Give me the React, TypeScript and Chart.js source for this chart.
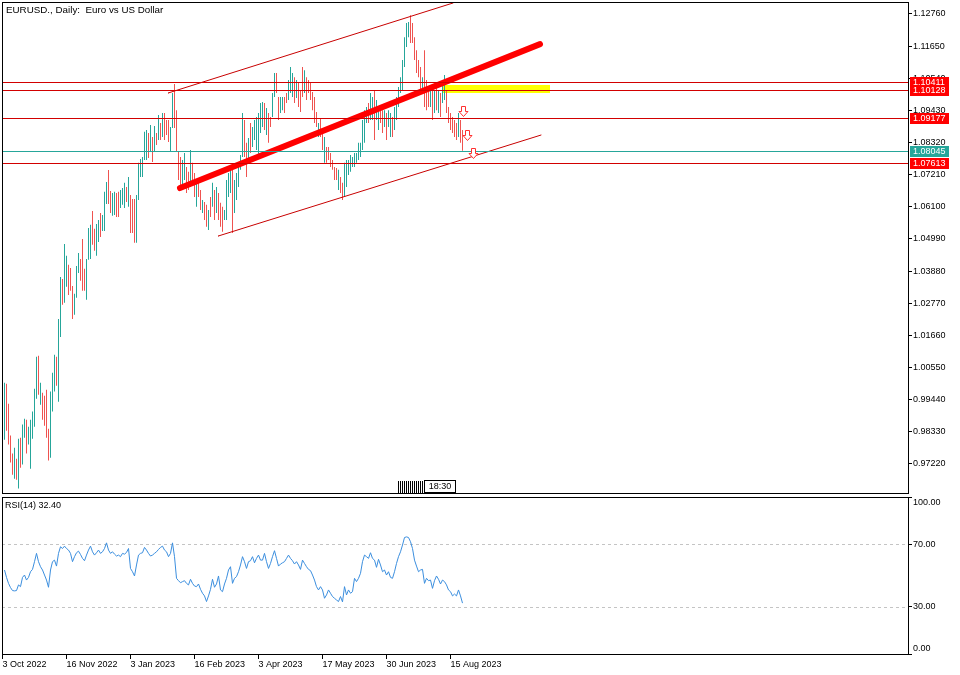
import React, { useEffect, useRef } from 'react';
import { Chart, registerables } from 'chart.js';

Chart.register(...registerables);

// ---- daily bars (index 0 = first bar, early Oct 2022) ----
const highs = [
  1.0003, 0.9999, 0.9930, 0.9820, 0.9758, 0.9778, 0.9740, 0.9809, 0.9813, 0.9858,
  0.9878, 0.9875, 0.9851, 0.9875, 0.9903, 0.9982, 1.0092, 1.0096, 1.0003, 0.9968,
  0.9958, 0.9978, 0.9844, 0.9972, 1.0037, 1.0099, 1.0092, 1.0223, 1.0368, 1.0361,
  1.0482, 1.0441, 1.0410, 1.0399, 1.0337, 1.0310, 1.0406, 1.0451, 1.0430, 1.0499,
  1.0396, 1.0430, 1.0537, 1.0548, 1.0596, 1.0534, 1.0551, 1.0565, 1.0589, 1.0582,
  1.0662, 1.0696, 1.0737, 1.0665, 1.0658, 1.0662, 1.0658, 1.0662, 1.0668, 1.0675,
  1.0693, 1.0679, 1.0713, 1.0651, 1.0637, 1.0637, 1.0651, 1.0762, 1.0775, 1.0782,
  1.0869, 1.0875, 1.0865, 1.0893, 1.0851, 1.0889, 1.0865, 1.0927, 1.0900, 1.0934,
  1.0934, 1.0910, 1.0910, 1.0886, 1.1003, 1.1034, 1.0944, 1.0800, 1.0782, 1.0772,
  1.0796, 1.0748, 1.0731, 1.0806, 1.0762, 1.0727, 1.0703, 1.0693, 1.0668, 1.0634,
  1.0627, 1.0617, 1.0599, 1.0644, 1.0693, 1.0668, 1.0679, 1.0658, 1.0624, 1.0610,
  1.0599, 1.0703, 1.0727, 1.0738, 1.0755, 1.0703, 1.0727, 1.0748, 1.0789, 1.0934,
  1.0910, 1.0831, 1.0848, 1.0900, 1.0886, 1.0910, 1.0920, 1.0934, 1.0969, 1.0972,
  1.0969, 1.0951, 1.0934, 1.0920, 1.1003, 1.1072, 1.1072, 1.0989, 1.0989, 1.0989,
  1.0989, 1.1003, 1.1048, 1.1093, 1.1072, 1.1058, 1.1048, 1.1038, 1.1013, 1.1093,
  1.1082, 1.1058, 1.1048, 1.1038, 1.1007, 1.0989, 1.0938, 1.0900, 1.0917, 1.0865,
  1.0851, 1.0817, 1.0817, 1.0796, 1.0772, 1.0748, 1.0744, 1.0738, 1.0713, 1.0693,
  1.0762, 1.0772, 1.0772, 1.0789, 1.0782, 1.0796, 1.0796, 1.0831, 1.0831, 1.0910,
  1.0944, 1.0955, 1.0969, 1.1003, 1.0989, 1.1013, 1.0979, 1.0955, 1.0944, 1.0944,
  1.0944, 1.0934, 1.0944, 1.0934, 1.0920, 1.0955, 1.0989, 1.1024, 1.1058, 1.1117,
  1.1196, 1.1245, 1.1248, 1.1272, 1.1245, 1.1196, 1.1151, 1.1117, 1.1093, 1.1058,
  1.1151, 1.1048, 1.1024, 1.1013, 1.1013, 1.1013, 1.1024, 1.1013, 1.1003, 1.1038,
  1.1065, 1.1013, 1.0955, 1.0934, 1.0920, 1.0910, 1.0900, 1.0934, 1.0910, 1.0875,
];

const lows = [
  0.9806, 0.9837, 0.9789, 0.9727, 0.9685, 0.9671, 0.9668, 0.9637, 0.9709, 0.9720,
  0.9813, 0.9758, 0.9789, 0.9706, 0.9809, 0.9851, 0.9947, 0.9961, 0.9927, 0.9875,
  0.9854, 0.9813, 0.9734, 0.9744, 0.9903, 0.9972, 0.9992, 0.9937, 1.0161, 1.0272,
  1.0279, 1.0334, 1.0306, 1.0320, 1.0223, 1.0237, 1.0296, 1.0382, 1.0355, 1.0320,
  1.0320, 1.0289, 1.0427, 1.0430, 1.0479, 1.0458, 1.0441, 1.0489, 1.0506, 1.0527,
  1.0527, 1.0620, 1.0620, 1.0589, 1.0579, 1.0582, 1.0575, 1.0575, 1.0606, 1.0617,
  1.0606, 1.0627, 1.0610, 1.0520, 1.0520, 1.0486, 1.0486, 1.0634, 1.0713, 1.0713,
  1.0772, 1.0772, 1.0779, 1.0800, 1.0765, 1.0800, 1.0824, 1.0841, 1.0841, 1.0851,
  1.0841, 1.0858, 1.0834, 1.0800, 1.0882, 1.0882, 1.0800, 1.0703, 1.0679, 1.0668,
  1.0703, 1.0658, 1.0668, 1.0679, 1.0703, 1.0644, 1.0610, 1.0644, 1.0599, 1.0589,
  1.0565, 1.0541, 1.0530, 1.0575, 1.0610, 1.0565, 1.0589, 1.0565, 1.0541, 1.0524,
  1.0565, 1.0565, 1.0644, 1.0658, 1.0520, 1.0589, 1.0634, 1.0679, 1.0738, 1.0782,
  1.0782, 1.0713, 1.0772, 1.0796, 1.0817, 1.0841, 1.0806, 1.0782, 1.0865, 1.0886,
  1.0875, 1.0858, 1.0831, 1.0886, 1.0920, 1.0989, 1.1003, 1.0910, 1.0934, 1.0944,
  1.0934, 1.0969, 1.0979, 1.1003, 1.0989, 1.0969, 1.0986, 1.0955, 1.0938, 1.0989,
  1.1003, 1.0979, 1.1003, 1.0979, 1.0944, 1.0900, 1.0886, 1.0851, 1.0851, 1.0806,
  1.0762, 1.0762, 1.0772, 1.0748, 1.0738, 1.0703, 1.0703, 1.0668, 1.0658, 1.0634,
  1.0644, 1.0679, 1.0720, 1.0731, 1.0748, 1.0748, 1.0762, 1.0772, 1.0782, 1.0806,
  1.0831, 1.0900, 1.0900, 1.0910, 1.0910, 1.0841, 1.0910, 1.0875, 1.0900, 1.0865,
  1.0886, 1.0841, 1.0886, 1.0851, 1.0851, 1.0875, 1.0910, 1.0955, 1.1003, 1.1013,
  1.1093, 1.1162, 1.1196, 1.1176, 1.1176, 1.1117, 1.1072, 1.1058, 1.1013, 1.1013,
  1.0955, 1.0944, 1.0955, 1.0955, 1.0910, 1.0934, 1.0944, 1.0934, 1.0920, 1.0969,
  1.0979, 1.0934, 1.0900, 1.0875, 1.0865, 1.0851, 1.0841, 1.0851, 1.0831, 1.0804,
];

// 1 = bullish bar, 0 = bearish bar
const bullish = [
  1, 0, 0, 0, 0, 1, 0, 1, 0, 1, 1, 0, 1, 1, 1, 1, 1, 0, 1, 0,
  0, 0, 0, 1, 1, 1, 0, 1, 1, 0, 1, 1, 0, 0, 0, 1, 1, 1, 0, 0,
  0, 1, 1, 1, 0, 0, 1, 1, 0, 1, 1, 1, 0, 0, 1, 1, 0, 0, 1, 1,
  1, 0, 1, 0, 0, 0, 1, 1, 1, 1, 1, 1, 0, 1, 0, 1, 0, 1, 0, 1,
  0, 0, 0, 1, 1, 0, 0, 0, 0, 1, 1, 0, 0, 1, 0, 0, 1, 0, 0, 1,
  0, 0, 1, 0, 1, 0, 1, 0, 0, 0, 1, 1, 1, 1, 0, 1, 1, 1, 1, 1,
  0, 0, 1, 0, 1, 1, 1, 1, 1, 1, 0, 1, 0, 0, 1, 1, 0, 0, 1, 1,
  0, 0, 1, 1, 1, 0, 1, 0, 0, 0, 1, 0, 0, 0, 0, 0, 0, 1, 0, 0,
  1, 0, 0, 0, 0, 0, 0, 1, 0, 0, 1, 1, 1, 1, 1, 1, 1, 1, 1, 1,
  1, 1, 0, 1, 1, 0, 1, 1, 0, 0, 1, 0, 1, 1, 0, 1, 1, 1, 1, 1,
  1, 1, 1, 0, 0, 0, 0, 0, 0, 1, 0, 0, 0, 1, 0, 1, 0, 1, 0, 1,
  1, 0, 0, 0, 0, 0, 0, 1, 0, 0,
];

// RSI(14) per bar
const rsi = [
  53.5, 48.8, 45.0, 42.3, 40.4, 40.2, 40.4, 44.0, 42.9, 48.8,
  50.3, 47.1, 48.8, 52.4, 53.9, 58.8, 64.1, 58.8, 55.6, 53.5,
  50.3, 47.1, 42.5, 53.5, 58.8, 59.8, 56.0, 64.1, 68.3, 67.2,
  68.7, 67.2, 66.2, 64.1, 58.8, 62.0, 64.5, 65.5, 63.4, 60.9,
  59.4, 63.0, 66.2, 68.7, 65.1, 63.0, 64.5, 66.2, 64.1, 65.1,
  67.2, 70.8, 66.2, 64.1, 65.1, 63.6, 62.4, 63.0, 62.0, 64.1,
  63.6, 64.7, 67.2, 54.5, 52.4, 49.7, 56.7, 63.0, 64.1, 64.5,
  67.9, 66.2, 64.1, 62.4, 63.0, 64.1, 65.1, 66.6, 67.9, 68.7,
  66.2, 65.1, 62.0, 64.1, 70.8, 62.0, 48.2, 46.7, 45.4, 46.1,
  46.7, 45.0, 44.0, 47.6, 45.0, 43.3, 42.9, 44.6, 41.2, 38.7,
  37.0, 33.4, 37.0, 41.2, 47.6, 42.5, 44.6, 49.7, 40.8, 39.7,
  44.6, 48.2, 53.5, 55.6, 45.0, 48.2, 49.3, 52.4, 56.7, 62.0,
  58.8, 54.5, 58.8, 59.4, 62.0, 58.1, 60.9, 63.0, 59.8, 59.8,
  64.1, 58.8, 54.5, 57.7, 62.0, 65.8, 60.9, 56.0, 57.3, 58.1,
  58.8, 60.9, 63.0, 60.9, 59.4, 57.3, 58.8, 56.7, 53.9, 59.8,
  57.7, 55.6, 53.9, 53.1, 50.3, 47.1, 42.9, 40.8, 42.9, 40.8,
  35.5, 37.6, 40.8, 38.7, 36.6, 35.5, 34.4, 33.4, 36.6, 33.2,
  42.9, 37.6, 40.8, 38.7, 39.7, 48.2, 46.1, 48.2, 51.4, 58.8,
  63.0, 62.0, 60.9, 64.5, 60.9, 59.8, 55.2, 60.3, 56.7, 52.4,
  53.5, 50.3, 52.4, 48.8, 48.2, 52.4, 57.7, 62.0, 65.1, 69.4,
  74.2, 74.6, 74.2, 71.5, 67.2, 59.8, 56.0, 52.4, 53.5, 53.9,
  45.0, 48.2, 46.7, 47.1, 41.8, 46.7, 49.7, 47.6, 44.6, 47.1,
  46.1, 44.0, 40.8, 39.7, 37.0, 38.2, 37.0, 40.8, 37.0, 32.4,
];

// axes
const priceTicks = [1.1276, 1.1165, 1.1054, 1.0943, 1.0832, 1.0721, 1.061, 1.0499, 1.0388, 1.0277, 1.0166, 1.0055, 0.9944, 0.9833, 0.9722];
const dateTickIdx = [-1, 31, 63, 95, 127, 159, 191, 223];
const dateLabels = ['3 Oct 2022', '16 Nov 2022', '3 Jan 2023', '16 Feb 2023', '3 Apr 2023', '17 May 2023', '30 Jun 2023', '15 Aug 2023'];
const rsiTicks = [0, 30, 70, 100];
const rsiLevels = [70, 30];

// drawn objects (bar index, price)
const resistanceLevels = [1.10411, 1.10128, 1.09177, 1.07613];
const bidPrice = [1.08045];
const channelUpper = [{ x: 81.75, y: 1.1003 }, { x: 224.25, y: 1.1314 }];
const channelLower = [{ x: 106.75, y: 1.0509 }, { x: 268.25, y: 1.0858 }];
const trendMiddle = [{ x: 87.75, y: 1.0675 }, { x: 267.75, y: 1.1172 }];
const zoneIdx = [219.25, 272.75];
const zonePrice = [1.1031, 1.1003];
const arrowIdx = [229, 231.25, 234.25];
const arrowPrice = [1.0958, 1.0875, 1.0813];

const X_MIN = -1.25;
const X_MAX = 451.75;
const Y_MIN = 0.962185;
const Y_MAX = 1.131744;

const FONT = '"Liberation Sans", Arial, sans-serif';
const UP = '#26a69a';
const DOWN = '#ef5350';

const mainPlugin = {
  id: 'mainDecor',
  beforeDatasetsDraw(chart: any) {
    const { ctx, scales } = chart;
    const x = scales.x, y = scales.y;
    ctx.save();
    ctx.fillStyle = '#ffff00';
    const x0 = Math.round(x.getPixelForValue(zoneIdx[0]));
    const x1 = Math.round(x.getPixelForValue(zoneIdx[1]));
    const y0 = Math.round(y.getPixelForValue(zonePrice[0]));
    const y1 = Math.round(y.getPixelForValue(zonePrice[1]));
    ctx.fillRect(x0, y0, x1 - x0, y1 - y0);
    ctx.restore();
  },
  afterDatasetsDraw(chart: any) {
    const { ctx, chartArea, scales } = chart;
    const y = scales.y;
    ctx.save();
    ctx.lineWidth = 1;
    const drawLevel = (v: number, color: string) => {
      const py = Math.round(y.getPixelForValue(v)) + 0.5;
      ctx.strokeStyle = color;
      ctx.beginPath();
      ctx.moveTo(chartArea.left, py);
      ctx.lineTo(chartArea.right, py);
      ctx.stroke();
    };
    resistanceLevels.forEach((v) => drawLevel(v, '#d20000'));
    bidPrice.forEach((v) => drawLevel(v, UP));
    ctx.restore();
  },
  afterDraw(chart: any) {
    const { ctx, chartArea, scales } = chart;
    const x = scales.x, y = scales.y;
    ctx.save();
    // frame
    ctx.strokeStyle = '#000';
    ctx.lineWidth = 1;
    ctx.strokeRect(chartArea.left + 0.5, chartArea.top + 0.5, chartArea.right - chartArea.left, chartArea.bottom - chartArea.top);

    // title
    ctx.fillStyle = '#000';
    ctx.font = '9.8px ' + FONT;
    ctx.textBaseline = 'middle';
    ctx.textAlign = 'left';
    ctx.fillText('EURUSD., Daily:  Euro vs US Dollar', 6, 10);

    // price boxes
    ctx.font = '9px ' + FONT;
    const box = (v: number, color: string) => {
      const py = Math.round(y.getPixelForValue(v));
      ctx.fillStyle = color;
      ctx.fillRect(chartArea.right + 2, py - 5, 39, 11);
      ctx.fillStyle = '#fff';
      ctx.fillText(v.toFixed(5), chartArea.right + 5, py + 0.5);
    };
    [resistanceLevels[0], resistanceLevels[1], resistanceLevels[2]].forEach((v) => box(v, '#ff0000'));
    bidPrice.forEach((v) => box(v, UP));
    box(resistanceLevels[3], '#ff0000');

    // arrows
    ctx.lineWidth = 1;
    for (let i = 0; i < arrowIdx.length; i++) {
      const cx = Math.round(x.getPixelForValue(arrowIdx[i])) + 0.5;
      const top = Math.round(y.getPixelForValue(arrowPrice[i])) + 0.5;
      ctx.beginPath();
      ctx.moveTo(cx - 2, top);
      ctx.lineTo(cx + 2, top);
      ctx.lineTo(cx + 2, top + 5);
      ctx.lineTo(cx + 4.5, top + 5);
      ctx.lineTo(cx, top + 10);
      ctx.lineTo(cx - 4.5, top + 5);
      ctx.lineTo(cx - 2, top + 5);
      ctx.closePath();
      ctx.fillStyle = '#fff';
      ctx.fill();
      ctx.strokeStyle = '#ff3030';
      ctx.stroke();
    }

    // scroll widget
    const by = chartArea.bottom;
    ctx.strokeStyle = '#000';
    for (let px = 398; px <= 424; px += 2) {
      ctx.beginPath();
      ctx.moveTo(px + 0.5, by - 12);
      ctx.lineTo(px + 0.5, by);
      ctx.stroke();
    }
    ctx.fillStyle = '#fff';
    ctx.fillRect(425, by - 13, 30, 12);
    ctx.strokeRect(424.5, by - 12.5, 31, 12);
    ctx.fillStyle = '#000';
    ctx.font = '9px ' + FONT;
    ctx.textAlign = 'center';
    ctx.fillText('18:30', 440, by - 6);
    ctx.restore();
  },
};

const rsiPlugin = {
  id: 'rsiDecor',
  beforeDatasetsDraw(chart: any) {
    const { ctx, chartArea, scales } = chart;
    ctx.save();
    ctx.strokeStyle = '#c4c4c4';
    ctx.lineWidth = 1;
    ctx.setLineDash([3, 3]);
    rsiLevels.forEach((v) => {
      const py = Math.round(scales.y.getPixelForValue(v)) + 0.5;
      ctx.beginPath();
      ctx.moveTo(chartArea.left, py);
      ctx.lineTo(chartArea.right, py);
      ctx.stroke();
    });
    ctx.restore();
  },
  afterDraw(chart: any) {
    const { ctx, chartArea, scales } = chart;
    ctx.save();
    ctx.strokeStyle = '#000';
    ctx.lineWidth = 1;
    ctx.strokeRect(chartArea.left + 0.5, chartArea.top + 0.5, chartArea.right - chartArea.left, chartArea.bottom - chartArea.top);
    ctx.fillStyle = '#000';
    ctx.font = '9px ' + FONT;
    ctx.textBaseline = 'middle';
    ctx.textAlign = 'left';
    ctx.fillText('RSI(14) ' + rsi[rsi.length - 1].toFixed(2), 5, 11);
    rsiTicks.forEach((v) => {
      let py = scales.y.getPixelForValue(v);
      py = Math.max(chartArea.top + 5.5, Math.min(chartArea.bottom - 5.5, py));
      ctx.fillText(v.toFixed(2), chartArea.right + 5, py);
    });
    ctx.restore();
  },
};

export default function App() {
  const mainRef = useRef<HTMLCanvasElement>(null);
  const rsiRef = useRef<HTMLCanvasElement>(null);

  useEffect(() => {
    const candleData = highs.map((h, i) => ({ x: i, y: [lows[i], h] }));
    const candleColors = bullish.map((b) => (b ? UP : DOWN));
    const lineDs = (pts: any[], color: string, width: number) => ({
      type: 'line',
      data: pts,
      borderColor: color,
      borderWidth: width,
      borderCapStyle: 'round',
      pointRadius: 0,
      pointHoverRadius: 0,
      fill: false,
      tension: 0,
      order: 0,
    });

    const main = new Chart(mainRef.current as HTMLCanvasElement, {
      type: 'bar',
      data: {
        datasets: [
          {
            type: 'bar',
            data: candleData as any,
            backgroundColor: candleColors,
            borderWidth: 0,
            inflateAmount: 0,
            barThickness: 1,
            order: 10,
          } as any,
          lineDs(channelUpper, '#c80000', 1) as any,
          lineDs(channelLower, '#c80000', 1) as any,
          lineDs(trendMiddle, '#ff0000', 6) as any,
        ],
      },
      options: {
        animation: false,
        responsive: false,
        maintainAspectRatio: false,
        layout: { padding: { left: 2, top: 2, right: 0, bottom: 2 } },
        plugins: { legend: { display: false }, tooltip: { enabled: false } },
        events: [],
        scales: {
          x: {
            type: 'linear', min: X_MIN, max: X_MAX, bounds: 'data', display: false,
            offset: false, grid: { offset: false },
          },
          y: {
            type: 'linear',
            position: 'right',
            min: Y_MIN,
            max: Y_MAX,
            bounds: 'data',
            afterBuildTicks: (s: any) => {
              s.ticks = priceTicks.map((v) => ({ value: v }));
            },
            afterFit: (s: any) => {
              s.width = 52;
              s.paddingTop = 0;
              s.paddingBottom = 0;
            },
            ticks: {
              autoSkip: false,
              padding: 1,
              color: '#000',
              font: { family: FONT, size: 9 },
              callback: (v: any) => Number(v).toFixed(5),
            },
            grid: { drawOnChartArea: false, drawTicks: true, tickLength: 4, color: '#000' },
            border: { display: true, color: '#000' },
          },
        },
      } as any,
      plugins: [mainPlugin],
    });

    const rsiChart = new Chart(rsiRef.current as HTMLCanvasElement, {
      type: 'line',
      data: {
        datasets: [
          {
            data: rsi.map((v, i) => ({ x: i, y: v })),
            borderColor: '#3b8ede',
            borderWidth: 1,
            pointRadius: 0,
            pointHoverRadius: 0,
            tension: 0,
            fill: false,
          },
        ],
      },
      options: {
        animation: false,
        responsive: false,
        maintainAspectRatio: false,
        layout: { padding: { left: 2, top: 2, right: 0, bottom: 0 } },
        plugins: { legend: { display: false }, tooltip: { enabled: false } },
        events: [],
        scales: {
          x: {
            type: 'linear',
            position: 'bottom',
            min: X_MIN,
            max: X_MAX,
            bounds: 'data',
            offset: false,
            afterBuildTicks: (s: any) => {
              s.ticks = dateTickIdx.map((v) => ({ value: v }));
            },
            afterFit: (s: any) => {
              s.height = 21;
              s.paddingLeft = 0;
              s.paddingRight = 0;
            },
            ticks: {
              autoSkip: false,
              maxRotation: 0,
              minRotation: 0,
              align: 'start',
              padding: 0,
              color: '#000',
              font: { family: FONT, size: 9 },
              callback: (_v: any, i: number) => dateLabels[i],
            },
            grid: { drawOnChartArea: false, drawTicks: true, tickLength: 5, color: '#000' },
            border: { display: true, color: '#000' },
          },
          y: {
            type: 'linear',
            position: 'right',
            min: 0,
            max: 100,
            bounds: 'data',
            afterBuildTicks: (s: any) => {
              s.ticks = rsiTicks.map((v) => ({ value: v }));
            },
            afterFit: (s: any) => {
              s.width = 52;
              s.paddingTop = 0;
              s.paddingBottom = 0;
            },
            ticks: { display: false },
            grid: { drawOnChartArea: false, drawTicks: true, tickLength: 4, color: '#000' },
            border: { display: true, color: '#000' },
          },
        },
      } as any,
      plugins: [rsiPlugin],
    });

    return () => {
      main.destroy();
      rsiChart.destroy();
    };
  }, []);

  return (
    <div style={{ position: 'fixed', left: 0, top: 0, width: 960, height: 675, background: '#fff' }}>
      <canvas ref={mainRef} width={960} height={495} style={{ position: 'absolute', left: 0, top: 0, width: 960, height: 495 }} />
      <canvas ref={rsiRef} width={960} height={180} style={{ position: 'absolute', left: 0, top: 495, width: 960, height: 180 }} />
    </div>
  );
}
